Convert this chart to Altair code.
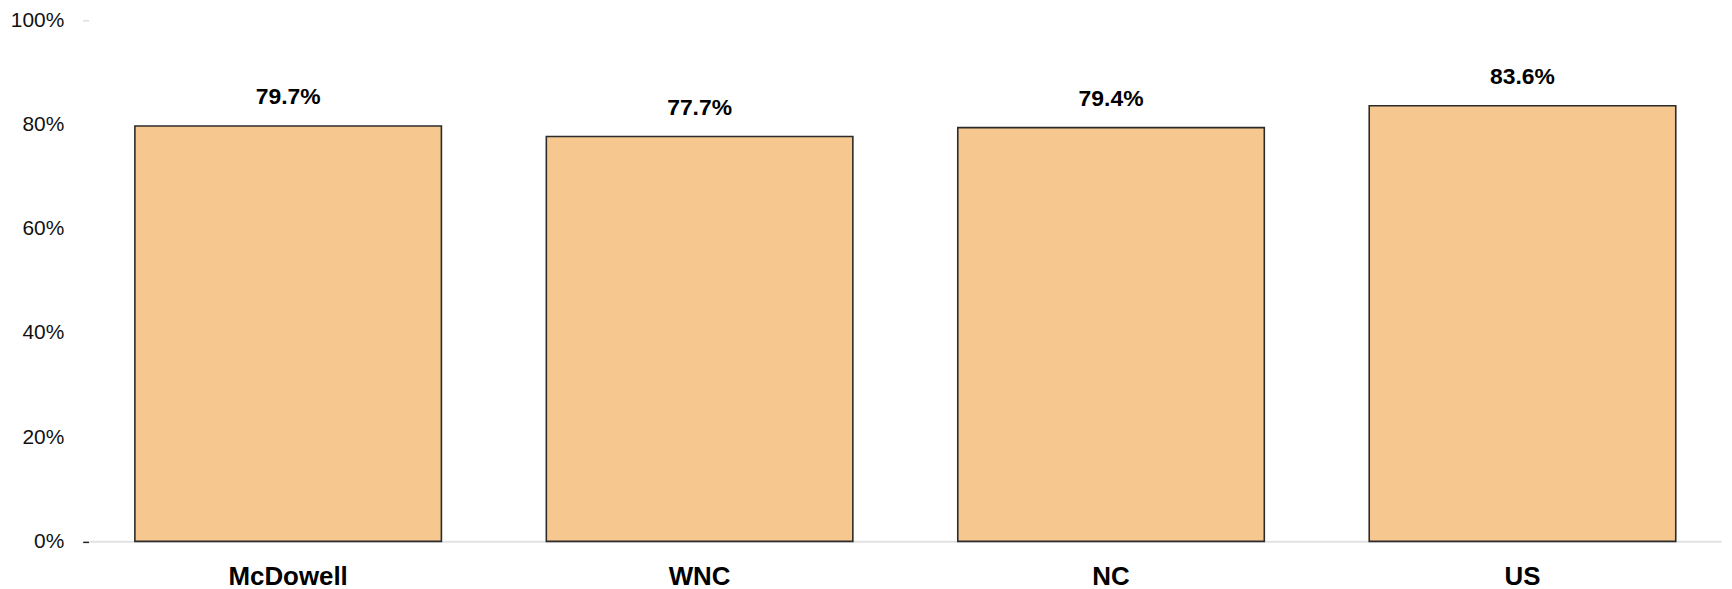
import altair as alt
import pandas as pd

regions = ["McDowell", "WNC", "NC", "US"]
values = [0.797, 0.777, 0.794, 0.836]
labels = ["79.7%", "77.7%", "79.4%", "83.6%"]

df = pd.DataFrame({"region": regions, "value": values, "label": labels})

FONT = "Liberation Sans"

x = alt.X("region:N", sort=regions, title=None,
          scale=alt.Scale(paddingInner=0.255, paddingOuter=0.11),
          axis=alt.Axis(labelAngle=0, labelFont=FONT, labelFontSize=26,
                        labelFontWeight="bold", labelColor="#000",
                        ticks=False, labelPadding=22,
                        domainColor="#e2e2e2", domainWidth=2))
y = alt.Y("value:Q", title=None,
          scale=alt.Scale(domain=[0, 1], nice=False),
          axis=alt.Axis(values=[0, 0.2, 0.4, 0.6, 0.8, 1.0], format=".0%",
                        grid=False, domain=False, labelFont=FONT,
                        labelFontSize=21, labelColor="#111",
                        tickSize=6, offset=1, labelPadding=19, tickWidth=1.5,
                        tickColor={"expr": "datum.value == 0 ? '#222' : (datum.value == 1 ? '#dddddd' : 'transparent')"}))

bars = alt.Chart(df).mark_bar(fill="#F6C88F", stroke="#2b2b2b",
                              strokeWidth=1.6).encode(x=x, y=y)

text = alt.Chart(df).mark_text(font=FONT, fontSize=23, fontWeight="bold",
                               color="#000", baseline="bottom", dy=-17).encode(
    x=x, y=y, text="label:N")

chart = (bars + text).properties(
    width=1639, height=523.5,
    padding={"left": 82, "top": 11, "right": 3, "bottom": 46},
    autosize="none",
).configure_view(stroke=None)

chart.save("out.html", embed_options={"renderer": "svg", "actions": False})
